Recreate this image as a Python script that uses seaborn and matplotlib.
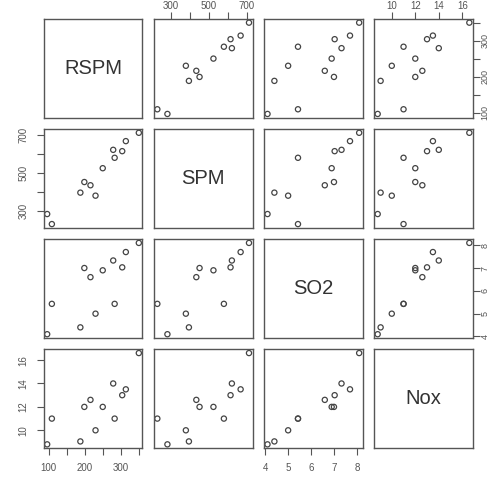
import numpy as np
import pandas as pd
import matplotlib
matplotlib.use("Agg")
import matplotlib.pyplot as plt
import seaborn as sns

# values (12 sites)
rspm = [96, 109, 230, 188, 216, 199, 250, 283, 304, 279, 314, 350]
spm = [283, 230, 380, 396, 435, 452, 525, 580, 615, 622, 668, 712]
so2 = [4.1, 5.43, 5.0, 4.4, 6.6, 7.0, 6.9, 5.43, 7.03, 7.33, 7.7, 8.1]
nox = [8.8, 11.0, 10.0, 9.05, 12.6, 12.0, 12.0, 11.0, 13.0, 14.0, 13.5, 16.6]

var_names = ["RSPM", "SPM", "SO2", "Nox"]
tick_vals = {
    "RSPM": [100, 150, 200, 250, 300, 350],
    "SPM": [300, 400, 500, 600, 700],
    "SO2": [4, 5, 6, 7, 8],
    "Nox": [10, 12, 14, 16],
}
tick_text = {
    "RSPM": ["100", "", "200", "", "300", ""],
    "SPM": ["300", "", "500", "", "700"],
    "SO2": ["4", "5", "6", "7", "8"],
    "Nox": ["10", "12", "14", "16"],
}

df = pd.DataFrame({"RSPM": rspm, "SPM": spm, "SO2": so2, "Nox": nox})

sns.set_style("white")
plt.rcParams["font.family"] = ["Liberation Sans", "DejaVu Sans"]

grey = "#555555"
g = sns.PairGrid(df, vars=var_names, height=1.2, despine=False)
g.map_offdiag(sns.scatterplot, facecolor="none", edgecolor="#444444",
              s=14, linewidth=0.9, marker="o")

n = len(var_names)
for i, yv in enumerate(var_names):
    for j, xv in enumerate(var_names):
        ax = g.axes[i, j]
        ax.set_xlabel("")
        ax.set_ylabel("")
        for sp in ax.spines.values():
            sp.set_color(grey)
            sp.set_linewidth(1.0)
        ax.tick_params(which="both", bottom=False, top=False, left=False,
                       right=False, labelbottom=False, labeltop=False,
                       labelleft=False, labelright=False,
                       direction="out", length=5, width=0.8, color=grey,
                       labelcolor=grey, labelsize=7, pad=6)
        if i == j:
            ax.text(0.5, 0.5, xv, transform=ax.transAxes, ha="center",
                    va="center", fontsize=14.5, color="#333333")
        if i == 0 and j % 2 == 1:
            # top axis sits at the edge of the image, keep labels inside
            ax.tick_params(axis="x", top=True, labeltop=True, pad=1)
        if i == n - 1 and j % 2 == 0:
            ax.tick_params(axis="x", bottom=True, labelbottom=True)
        if j == 0 and i % 2 == 1:
            ax.tick_params(axis="y", left=True, labelleft=True)
        if j == n - 1 and i % 2 == 0:
            ax.tick_params(axis="y", right=True, labelright=True,
                           pad=0.5, labelsize=6.5)

# R-style 4% range padding, ticks on shared axes
for k, v in enumerate(var_names):
    lo, hi = min(df[v]), max(df[v])
    pad = 0.04 * (hi - lo)
    g.axes[0, k].set_xlim(lo - pad, hi + pad)
    g.axes[k, 0].set_ylim(lo - pad, hi + pad)
    g.axes[0, k].set_xticks(tick_vals[v], tick_text[v])
    g.axes[k, 0].set_yticks(tick_vals[v], tick_text[v])

for i in range(n):
    for j in range(n):
        ax = g.axes[i, j]
        if j == 0 and i % 2 == 1 or j == n - 1 and i % 2 == 0:
            plt.setp(ax.get_yticklabels(), va="center", rotation=90)

g.figure.set_size_inches(4.9, 4.78)
g.figure.subplots_adjust(left=43.5 / 490, right=473 / 490,
                         top=1 - 19 / 478, bottom=1 - 448 / 478,
                         wspace=0.113, hspace=0.117)
g.figure.savefig("out.png", dpi=100)
